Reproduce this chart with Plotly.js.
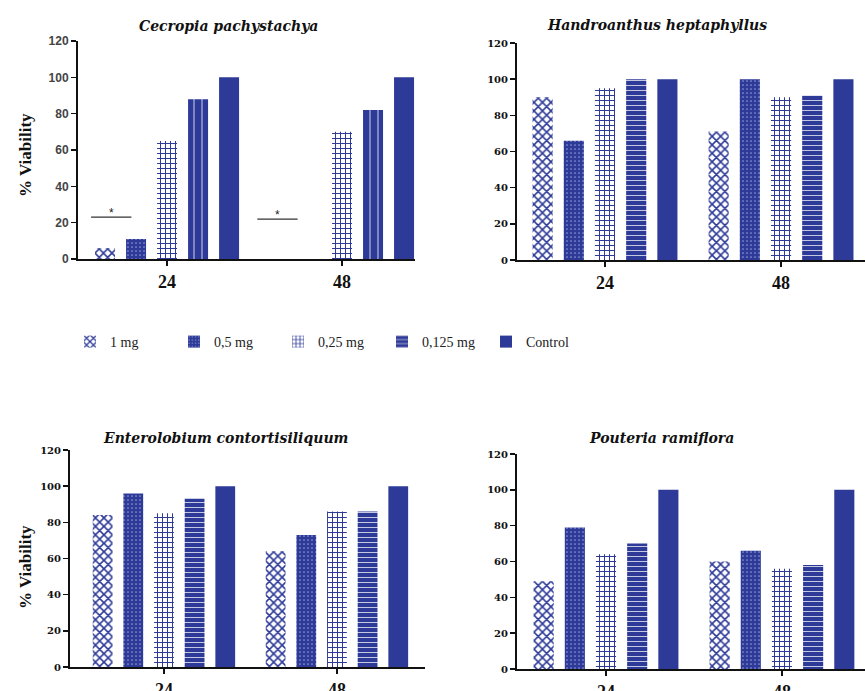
<!DOCTYPE html>
<html>
<head>
<meta charset="utf-8">
<script src="https://cdn.plot.ly/plotly-3.0.1.min.js"></script>
<style>html,body{margin:0;padding:0;background:#fff;}#chart{width:865px;height:691px;}</style>
</head>
<body>
<div id="chart"></div>
<script>
// ---- data ----
const timeLabels = ["24", "48"];
const doseNames = ["1 mg", "0,5 mg", "0,25 mg", "0,125 mg", "Control"];
const speciesTitles = ["Cecropia pachystachya", "Handroanthus heptaphyllus", "Enterolobium contortisiliquum", "Pouteria ramiflora"];
// values per dose, [24 h, 48 h]
const cecropiaVals = [[6, 0], [11, 0], [65, 70], [88, 82], [100, 100]];
const handroVals   = [[90, 71], [66, 100], [95, 90], [100, 91], [100, 100]];
const enteroVals   = [[84, 64], [96, 73], [85, 86], [93, 86], [100, 100]];
const pouteriaVals = [[49, 60], [79, 66], [64, 56], [70, 58], [100, 100]];
const sigLevels = [23, 22];           // significance bars (Cecropia, 1 mg & 0,5 mg)
const yTickVals = [0, 20, 40, 60, 80, 100, 120];
const yLabel = "% Viability";

// ---- style ----
const BLUE = "#2d3a97";
const W = 865, H = 691;
const bargap = 0.114, bargroupgap = 0.355;
function patternFor(i, vertical) {
  switch (i) {
    case 0: return {shape: "x", bgcolor: "#ffffff", fgcolor: BLUE, fgopacity: 1, size: 6, solidity: 0.45, fillmode: "overlay"};
    case 1: return {shape: ".", bgcolor: BLUE, fgcolor: "#8f98d4", fgopacity: 1, size: 4, solidity: 0.15, fillmode: "overlay"};
    case 2: return {shape: "+", bgcolor: "#ffffff", fgcolor: BLUE, fgopacity: 1, size: 5, solidity: 0.36, fillmode: "overlay"};
    case 3: return vertical
      ? {shape: "|", bgcolor: BLUE, fgcolor: "#ffffff", fgopacity: 0.8, size: 8, solidity: 0.12, fillmode: "overlay"}
      : {shape: "-", bgcolor: BLUE, fgcolor: "#ffffff", fgopacity: 0.8, size: 5, solidity: 0.18, fillmode: "overlay"};
    default: return {shape: ""};
  }
}
function px(x) { return x / W; }
function py(y) { return (H - y) / H; }

const panels = [
  {vals: cecropiaVals, xd: [px(78), px(415)], yd: [py(259), py(41)], xr: [-0.509, 1.417], vertical: true, sans: true,
   title: [px(229), py(26)], ylab: [px(25), py(155)]},
  {vals: handroVals, xd: [px(517), 1], yd: [py(260), py(43)], xr: [-0.5, 1.477], vertical: false, sans: false,
   title: [px(657), py(25)], ylab: null, legend: true},
  {vals: enteroVals, xd: [px(70), px(425)], yd: [py(667), py(450)], xr: [-0.543, 1.509], vertical: false, sans: false,
   title: [px(226), py(438)], ylab: [px(25), py(567)]},
  {vals: pouteriaVals, xd: [px(517), 1], yd: [py(669), py(454)], xr: [-0.506, 1.472], vertical: false, sans: false,
   title: [px(661), py(438)], ylab: null}
];

const traces = [];
const layout = {
  width: W, height: H,
  margin: {l: 0, r: 0, t: 0, b: 0},
  paper_bgcolor: "#ffffff", plot_bgcolor: "#ffffff",
  barmode: "group", bargap: bargap, bargroupgap: bargroupgap,
  showlegend: true,
  legend: {orientation: "h", x: px(70), y: py(342), xanchor: "left", yanchor: "middle",
           font: {family: "Liberation Serif", size: 14, color: "#222"},
           entrywidth: 59, entrywidthmode: "pixels", bgcolor: "rgba(0,0,0,0)"},
  annotations: [], shapes: []
};

panels.forEach((p, k) => {
  const sfx = k === 0 ? "" : String(k + 1);
  const xa = "x" + sfx, ya = "y" + sfx;
  p.vals.forEach((v, i) => {
    traces.push({
      type: "bar", x: timeLabels, y: v, name: doseNames[i],
      xaxis: xa, yaxis: ya,
      marker: {color: BLUE, line: {width: 0}, pattern: patternFor(i, p.vertical)},
      showlegend: !!p.legend, legendgroup: doseNames[i], hoverinfo: "skip"
    });
  });
  const tickFont = p.sans
    ? {family: "Liberation Sans", size: 12, color: "#444", weight: "bold"}
    : {family: "DejaVu Serif", size: 10, color: "#111", weight: "bold"};
  layout["xaxis" + sfx] = {
    domain: p.xd, anchor: ya, type: "category", range: p.xr,
    showline: true, linecolor: "#111", linewidth: 2,
    ticks: "outside", ticklen: 5, tickwidth: 1.5, tickcolor: "#111",
    tickfont: {family: "Liberation Serif", size: 18, color: "#111", weight: "bold"},
    showgrid: false, zeroline: false, fixedrange: true
  };
  layout["yaxis" + sfx] = {
    domain: p.yd, anchor: xa, range: [0, 120],
    tickvals: yTickVals, ticktext: yTickVals.map(String),
    showline: true, linecolor: "#111", linewidth: 2,
    ticks: "outside", ticklen: 5, tickwidth: 1.5, tickcolor: "#111",
    tickfont: tickFont, showgrid: false, zeroline: false, fixedrange: true
  };
  layout.annotations.push({
    xref: "paper", yref: "paper", x: p.title[0], y: p.title[1], xanchor: "center", yanchor: "middle",
    text: speciesTitles[k], showarrow: false,
    font: {family: "DejaVu Serif", size: 14, color: "#111", weight: "bold", style: "italic"}
  });
  if (p.ylab) {
    layout.annotations.push({
      xref: "paper", yref: "paper", x: p.ylab[0], y: p.ylab[1], xanchor: "center", yanchor: "middle",
      text: yLabel, textangle: -90, showarrow: false,
      font: {family: "Liberation Serif", size: 17, color: "#111", weight: "bold"}
    });
  }
});

// significance marks in Cecropia panel (spanning 1 mg and 0,5 mg bars)
const slot = (1 - bargap) / doseNames.length;
sigLevels.forEach((lvl, g) => {
  const c1 = g - 2 * slot, c2 = g - slot;
  const x0 = c1 - slot * 0.45 - (g === 1 ? 0.05 : 0), x1 = c2 - slot * 0.15 - (g === 1 ? 0.05 : 0);
  layout.shapes.push({type: "line", xref: "x", yref: "y", x0: x0, x1: x1, y0: lvl, y1: lvl,
    line: {color: "#333", width: 1.2}});
  layout.annotations.push({xref: "x", yref: "y", x: (x0 + x1) / 2, y: lvl, yanchor: "bottom", yshift: -5,
    text: "*", showarrow: false, font: {family: "Liberation Sans", size: 12, color: "#222"}});
});

Plotly.newPlot("chart", traces, layout, {staticPlot: true, displayModeBar: false});
</script>
</body>
</html>
